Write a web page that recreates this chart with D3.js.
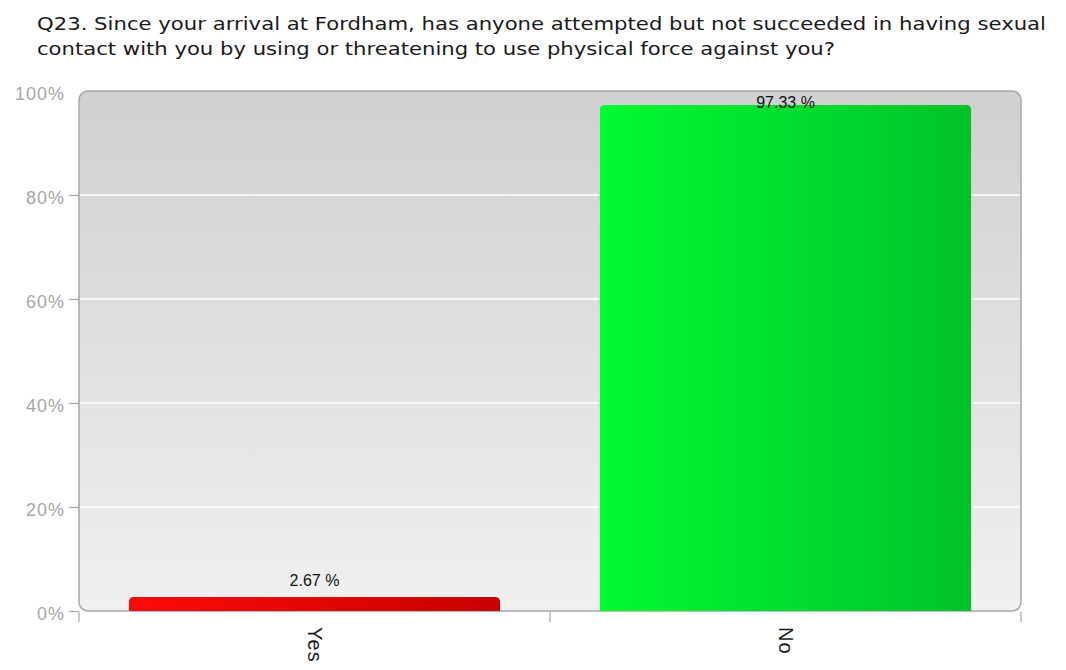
<!DOCTYPE html>
<html>
<head>
<meta charset="utf-8">
<script src="https://cdn.jsdelivr.net/npm/d3@7"></script>
<style>
  html, body { margin: 0; padding: 0; background: #fff; }
  svg { display: block; }
</style>
</head>
<body>
<svg id="chart" width="1066" height="670"></svg>
<script>
const titleLines = [
  "Q23. Since your arrival at Fordham, has anyone attempted but not succeeded in having sexual",
  "contact with you by using or threatening to use physical force against you?"
];
const titleWidths = [1009, 798];
const categories = ["Yes", "No"];
const values = [2.67, 97.33];
const yTicks = [0, 20, 40, 60, 80, 100];
const barColors = [["#ff0a0a", "#c80000"], ["#00fa32", "#00c32a"]];

const svg = d3.select("#chart");
const font = "'Liberation Sans', Arial, sans-serif";
const titleFont = "'DejaVu Sans', Verdana, sans-serif";
const margin = { left: 79, right: 45, top: 91, bottom: 59 };
const W = 1066, H = 670;

const x = d3.scaleBand().domain(categories)
  .range([margin.left, W - margin.right]).paddingInner(0.212).paddingOuter(0.106);
const xOuter = d3.scaleBand().domain(categories).range([margin.left, W - margin.right]);
const y = d3.scaleLinear().domain([0, 100]).range([H - margin.bottom, margin.top]);

const defs = svg.append("defs");
const bg = defs.append("linearGradient").attr("id", "bgGrad")
  .attr("x1", 0).attr("y1", 0).attr("x2", 0).attr("y2", 1);
bg.append("stop").attr("offset", "0%").attr("stop-color", "#d0d0d0");
bg.append("stop").attr("offset", "100%").attr("stop-color", "#f0f0f0");
barColors.forEach((c, i) => {
  const g = defs.append("linearGradient").attr("id", "barGrad" + i)
    .attr("x1", 0).attr("y1", 0).attr("x2", 1).attr("y2", 0);
  g.append("stop").attr("offset", "0%").attr("stop-color", c[0]);
  g.append("stop").attr("offset", "100%").attr("stop-color", c[1]);
});

// title
svg.append("g").selectAll("text").data(titleLines).join("text")
  .attr("x", 37).attr("y", (d, i) => 30 + i * 25)
  .attr("font-family", titleFont).attr("font-size", 18).attr("fill", "#1a1a1a")
  .attr("textLength", (d, i) => titleWidths[i]).attr("lengthAdjust", "spacingAndGlyphs")
  .text(d => d);

// plot background
const x0 = margin.left, x1 = W - margin.right, yTop = y(100), yBot = y(0);
svg.append("rect").attr("x", x0).attr("y", yTop)
  .attr("width", x1 - x0).attr("height", yBot - yTop)
  .attr("rx", 9).attr("ry", 9)
  .attr("fill", "url(#bgGrad)").attr("stroke", "#a8a8a8").attr("stroke-width", 1.5);

// gridlines
svg.append("g").selectAll("line").data(yTicks.filter(t => t > 0 && t < 100)).join("line")
  .attr("x1", x0 + 1).attr("x2", x1 - 1)
  .attr("y1", d => y(d)).attr("y2", d => y(d))
  .attr("stroke", "#ffffff").attr("stroke-width", 1.5);

// y axis ticks and labels
const yAxis = d3.axisLeft(y).tickValues(yTicks).tickFormat(d => d + "%").tickSize(10).tickPadding(4);
const gy = svg.append("g").attr("transform", `translate(${x0},0)`).call(yAxis);
gy.select(".domain").remove();
gy.selectAll(".tick line").attr("stroke", "#a8a8a8").attr("stroke-width", 1.2);
gy.selectAll(".tick text").attr("font-family", font).attr("font-size", 18)
  .attr("letter-spacing", 1).attr("dy", "0.45em").attr("fill", "#a8a8a8");
gy.selectAll(".tick").filter(d => d === 100).select("line").remove();

// x axis ticks at band edges
const edges = [xOuter(categories[0])].concat(categories.map(c => xOuter(c) + xOuter.bandwidth()));
svg.append("g").selectAll("line").data(edges).join("line")
  .attr("x1", d => d).attr("x2", d => d)
  .attr("y1", yBot + 1).attr("y2", yBot + 11)
  .attr("stroke", "#a8a8a8").attr("stroke-width", 1.2);

// bars with rounded tops
function topRounded(xl, yt, w, h, r) {
  r = Math.min(r, h, w / 2);
  return `M${xl},${yt + h}V${yt + r}Q${xl},${yt} ${xl + r},${yt}H${xl + w - r}Q${xl + w},${yt} ${xl + w},${yt + r}V${yt + h}Z`;
}
svg.append("g").selectAll("path").data(categories).join("path")
  .attr("d", (c, i) => topRounded(x(c), y(values[i]), x.bandwidth(), yBot - y(values[i]), 5))
  .attr("fill", (c, i) => `url(#barGrad${i})`);

// value labels
svg.append("g").selectAll("text").data(categories).join("text")
  .attr("x", c => x(c) + x.bandwidth() / 2)
  .attr("y", (c, i) => Math.max(y(values[i]) - 11, yTop + 17))
  .attr("text-anchor", "middle")
  .attr("font-family", font).attr("font-size", 16).attr("fill", "#111")
  .text((c, i) => values[i].toFixed(2) + " %");

// category labels, rotated
svg.append("g").selectAll("text").data(categories).join("text")
  .attr("transform", c => `translate(${x(c) + x.bandwidth() / 2},${yBot + 16}) rotate(90)`)
  .attr("dy", "0.35em")
  .attr("font-family", font).attr("font-size", 20).attr("letter-spacing", 1).attr("fill", "#1a1a1a")
  .text(c => c);
</script>
</body>
</html>
